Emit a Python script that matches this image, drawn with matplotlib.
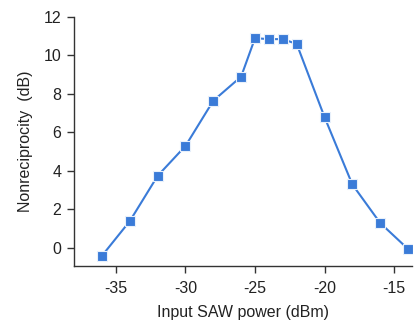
import matplotlib
matplotlib.use("Agg")
import matplotlib.pyplot as plt

power_dbm = [-36, -34, -32, -30, -28, -26, -25, -24, -23, -22, -20, -18, -16, -14]
nonreciprocity_db = [-0.4, 1.4, 3.75, 5.3, 7.65, 8.9, 10.9, 10.85, 10.85, 10.6, 6.8, 3.3, 1.3, -0.05]
xticks = [-35, -30, -25, -20, -15]
yticks = [0, 2, 4, 6, 8, 10, 12]

plt.rcParams['font.family'] = ['Liberation Sans', 'DejaVu Sans']
plt.rcParams['axes.unicode_minus'] = False
fig = plt.figure(figsize=(4.15, 3.27), dpi=100)
ax = fig.add_axes([0.178, 0.1865, 0.815, 0.7615])
color = '#3a7bd8'
ax.plot(power_dbm, nonreciprocity_db, '-', color=color, lw=1.5,
        marker='s', ms=7.5, mfc=color, mec='#e8f0fb', mew=0.8)
ax.set_xlim(-38.03, -13.7)
ax.set_ylim(-0.94, 12)
ax.set_xticks(xticks)
ax.set_yticks(yticks)
ax.spines['top'].set_visible(False)
ax.spines['right'].set_visible(False)
for s in ['left', 'bottom']:
    ax.spines[s].set_color('#333333')
    ax.spines[s].set_linewidth(1.0)
ax.tick_params(direction='out', length=5, width=1, color='#333333',
               labelsize=11.5, labelcolor='#222222', pad=4)
ax.tick_params(axis='x', pad=6)
ax.set_xlabel('Input SAW power (dBm)', fontsize=11.5, color='#222222', labelpad=6)
ax.set_ylabel('Nonreciprocity  (dB)', fontsize=11.5, color='#222222', labelpad=8)
fig.savefig('out.png', dpi=100)
